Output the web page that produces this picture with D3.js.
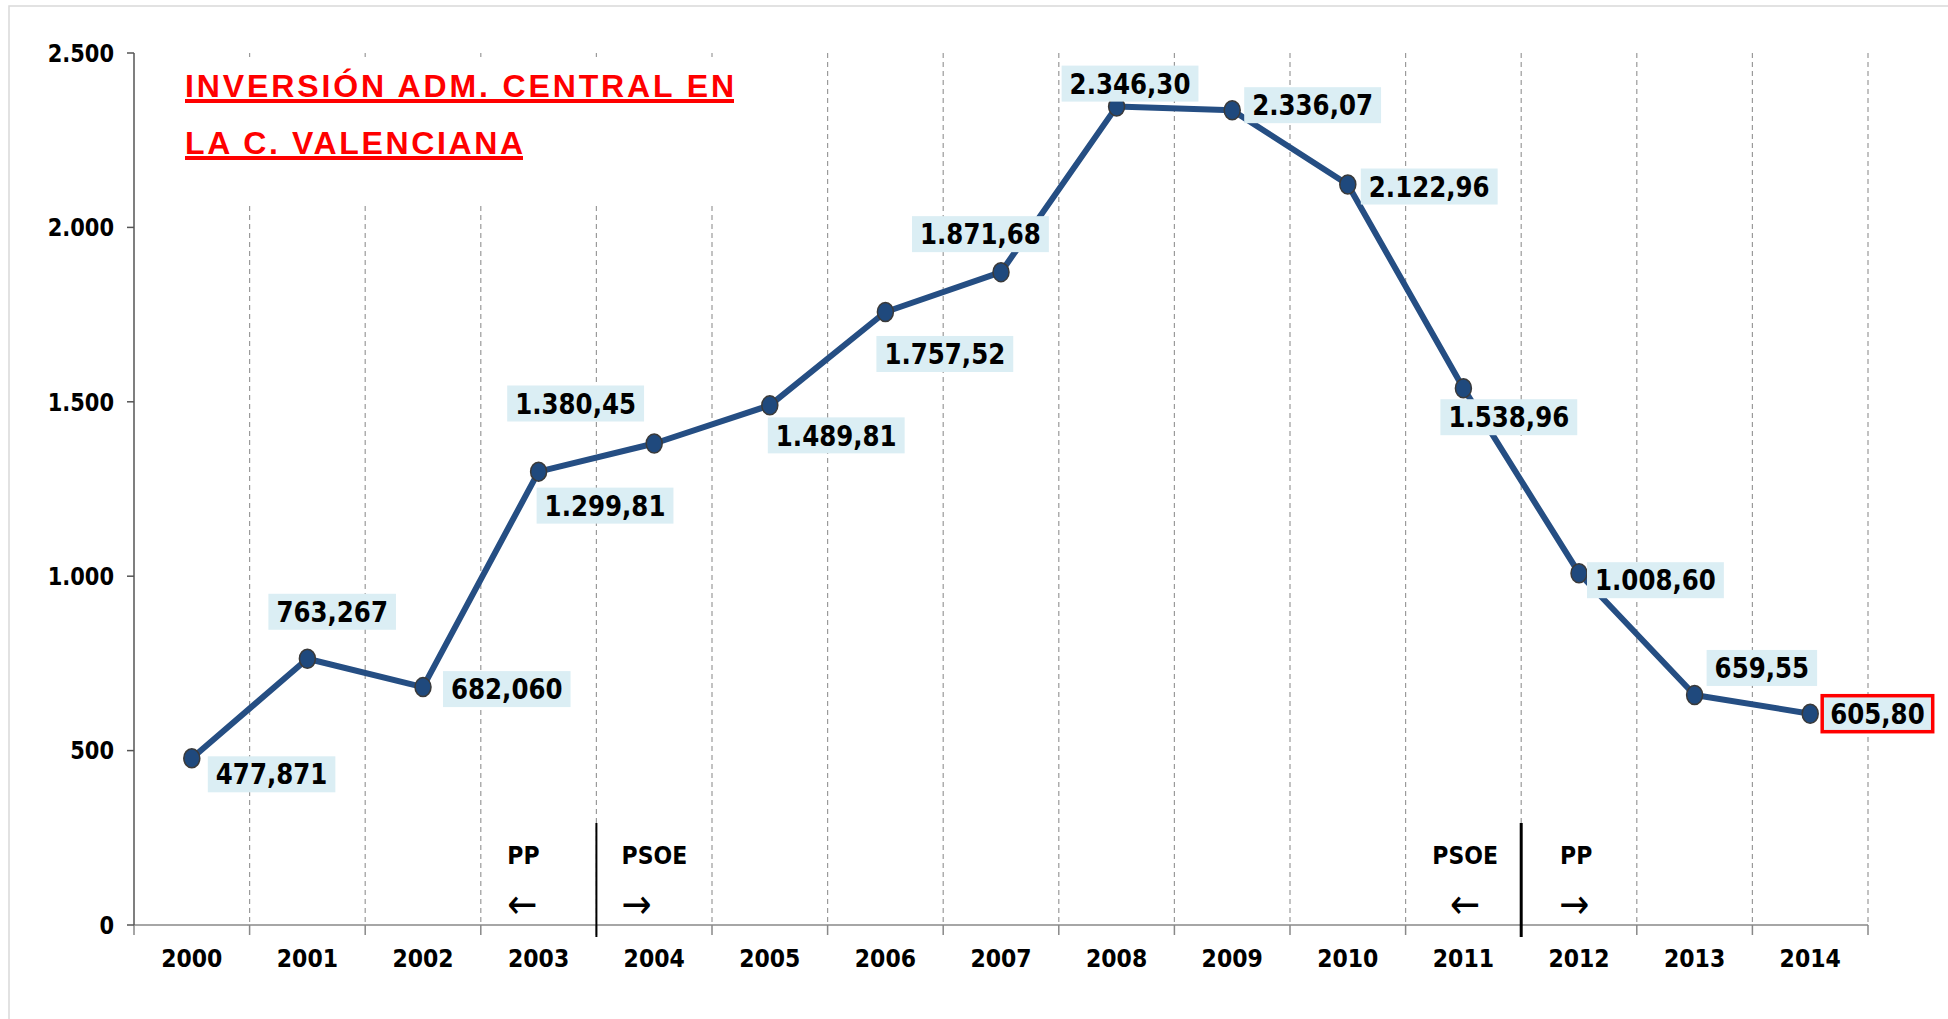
<!DOCTYPE html>
<html>
<head>
<meta charset="utf-8">
<script src="https://cdn.jsdelivr.net/npm/d3@7"></script>
<style>
  body { margin: 0; background: #fff; }
  text { font-family: "DejaVu Sans", Verdana, sans-serif; font-weight: bold; }
</style>
</head>
<body>
<div id="chart"></div>
<script>
// Data (millions of euros).
var years = ["2000", "2001", "2002", "2003", "2004", "2005", "2006", "2007",
             "2008", "2009", "2010", "2011", "2012", "2013", "2014"];
var values = [477.871, 763.267, 682.060, 1299.81, 1380.45, 1489.81, 1757.52, 1871.68,
              2346.30, 2336.07, 2122.96, 1538.96, 1008.60, 659.55, 605.80];
var valueLabels = ["477,871", "763,267", "682,060", "1.299,81", "1.380,45", "1.489,81",
                   "1.757,52", "1.871,68", "2.346,30", "2.336,07", "2.122,96", "1.538,96",
                   "1.008,60", "659,55", "605,80"];
var yTicks = [0, 500, 1000, 1500, 2000, 2500];
var yTickLabels = ["0", "500", "1.000", "1.500", "2.000", "2.500"];
var titleLines = ["INVERSIÓN ADM. CENTRAL EN", "LA C. VALENCIANA"];
// Government changes: after year "before", left party -> right party.
var changeAfter = ["2003", "2011"];
var changeLeft = ["PP", "PSOE"];
var changeRight = ["PSOE", "PP"];

// Placement of the value boxes relative to each point: [left offset, centre offset].
var labelPos = [[16, 16], [-39, -47], [20, 2], [-2, 34], [-147, -40], [-2, 30],
                [-9, 42], [-89, -38], [-55, -23], [12, -5], [13, 2], [-23, 29],
                [8, 7], [12, -27], [12, 0]];
// Offsets of the party names / arrows from the divider: [left name, left arrow, right name, right arrow].
var changePos = [[-73, -74, 58, 40], [-56, -56, 55, 53]];

var width = 1948, height = 1019;
var m = { left: 134, right: 1868, top: 53, bottom: 925 };
var stretch = 1.15; // the original image is a bit taller than wide

var svg = d3.select("#chart").append("svg")
    .attr("width", width)
    .attr("height", height);

// faint outer frame
svg.append("rect")
    .attr("x", 9).attr("y", 6)
    .attr("width", width).attr("height", height)
    .style("fill", "none")
    .style("stroke", "#d9d9d9")
    .style("stroke-width", 1.5);

var x = d3.scaleBand().domain(years).range([m.left, m.right]);
var y = d3.scaleLinear().domain([0, 2500]).range([m.bottom, m.top]);

function cx(d) { return x(d) + x.bandwidth() / 2; }

// Draw text scaled vertically around its own anchor.
function place(sel, px, py) {
  return sel.attr("transform", "translate(" + px + "," + py + ") scale(1," + stretch + ")");
}

// Dashed vertical gridlines at category boundaries.
var bounds = years.map(function(d) { return x(d) + x.bandwidth(); });
svg.selectAll("line.grid")
    .data(bounds)
    .enter().append("line")
    .attr("class", "grid")
    .attr("x1", function(d) { return d; })
    .attr("x2", function(d) { return d; })
    .attr("y1", y(2500))
    .attr("y2", y(0))
    .style("stroke", "#9a9a9a")
    .style("stroke-width", 1.2)
    .style("stroke-dasharray", "5,4");

// Title block, white background hides the gridlines behind it.
svg.append("rect")
    .attr("x", 170).attr("y", 57)
    .attr("width", 590).attr("height", 145)
    .style("fill", "#fff");

var titleWidths = [549, 338];
titleLines.forEach(function(t, i) {
  var by = 97 + i * 57;
  svg.append("text")
      .attr("x", 185)
      .attr("y", by)
      .attr("textLength", titleWidths[i])
      .attr("lengthAdjust", "spacing")
      .style("font-family", "'Liberation Sans Narrow', 'Arial Narrow', 'Liberation Sans', sans-serif")
      .style("font-size", "32px")
      .style("fill", "#ff0000")
      .text(t);
  svg.append("rect")
      .attr("x", 185).attr("y", by + 2)
      .attr("width", titleWidths[i]).attr("height", 4)
      .style("fill", "#ff0000");
});

// X axis line and ticks.
svg.append("line")
    .attr("x1", m.left).attr("x2", m.right)
    .attr("y1", y(0)).attr("y2", y(0))
    .style("stroke", "#888").style("stroke-width", 1.5);
svg.selectAll("line.xtick")
    .data([m.left].concat(bounds))
    .enter().append("line")
    .attr("class", "xtick")
    .attr("x1", function(d) { return d; })
    .attr("x2", function(d) { return d; })
    .attr("y1", y(0)).attr("y2", y(0) + 10)
    .style("stroke", "#888").style("stroke-width", 1.5);

svg.selectAll("text.year")
    .data(years)
    .enter().append("text")
    .attr("class", "year")
    .attr("text-anchor", "middle")
    .attr("dy", "0.36em")
    .style("font-size", "22px")
    .each(function(d) { place(d3.select(this), cx(d), 958); })
    .text(function(d) { return d; });

// Y axis.
svg.append("line")
    .attr("x1", m.left).attr("x2", m.left)
    .attr("y1", y(2500)).attr("y2", y(0))
    .style("stroke", "#555").style("stroke-width", 1.5);
svg.selectAll("line.ytick")
    .data(yTicks)
    .enter().append("line")
    .attr("class", "ytick")
    .attr("x1", m.left - 7).attr("x2", m.left)
    .attr("y1", function(d) { return y(d); })
    .attr("y2", function(d) { return y(d); })
    .style("stroke", "#555").style("stroke-width", 1.5);
svg.selectAll("text.ylab")
    .data(yTicks)
    .enter().append("text")
    .attr("class", "ylab")
    .attr("text-anchor", "end")
    .attr("dy", "0.36em")
    .style("font-size", "21px")
    .each(function(d) { place(d3.select(this), m.left - 20, y(d)); })
    .text(function(d, i) { return yTickLabels[i]; });

// Government change markers.
changeAfter.forEach(function(yr, i) {
  var bx = x(yr) + x.bandwidth();
  var p = changePos[i];
  svg.append("line")
      .attr("x1", bx).attr("x2", bx)
      .attr("y1", 823).attr("y2", 937)
      .style("stroke", "#000").style("stroke-width", i == 0 ? 2 : 3);
  [[changeLeft[i], p[0], p[1], "\u2190"], [changeRight[i], p[2], p[3], "\u2192"]].forEach(function(q) {
    place(svg.append("text"), bx + q[1], 855)
        .attr("text-anchor", "middle").attr("dy", "0.36em")
        .style("font-size", "22px").text(q[0]);
    place(svg.append("text"), bx + q[2], 903)
        .attr("text-anchor", "middle").attr("dy", "0.36em")
        .style("font-size", "36px").style("font-weight", "normal").text(q[3]);
  });
});

// The series line and markers.
var pts = years.map(function(d, i) { return [cx(d), y(values[i])]; });
svg.append("path")
    .datum(pts)
    .attr("d", d3.line())
    .style("fill", "none")
    .style("stroke", "#254e83")
    .style("stroke-width", 6)
    .style("stroke-linejoin", "round");
svg.selectAll("ellipse.dot")
    .data(pts)
    .enter().append("ellipse")
    .attr("class", "dot")
    .attr("cx", function(d) { return d[0]; })
    .attr("cy", function(d) { return d[1]; })
    .attr("rx", 8).attr("ry", 9.5)
    .style("fill", "#1f497d")
    .style("stroke", "#3a3a3a")
    .style("stroke-width", 1.5);

// Value boxes.
var pad = 8, boxH = 36;
var lab = svg.selectAll("g.lab")
    .data(pts)
    .enter().append("g")
    .attr("class", "lab");
lab.each(function(d, i) {
  var g = d3.select(this);
  var left = d[0] + labelPos[i][0];
  var mid = d[1] + labelPos[i][1];
  var rect = g.append("rect");
  var t = g.append("text")
      .attr("dy", "0.36em")
      .style("font-size", "24.5px")
      .style("fill", "#000")
      .text(valueLabels[i]);
  place(t, left + pad, mid);
  var w = t.node().getComputedTextLength() + 2 * pad;
  rect.attr("x", left).attr("y", mid - boxH / 2)
      .attr("width", w).attr("height", boxH)
      .style("fill", "#dbeef4");
  if (i == years.length - 1) {
    rect.style("stroke", "#ff0000").style("stroke-width", 3.5);
  }
});
</script>
</body>
</html>
